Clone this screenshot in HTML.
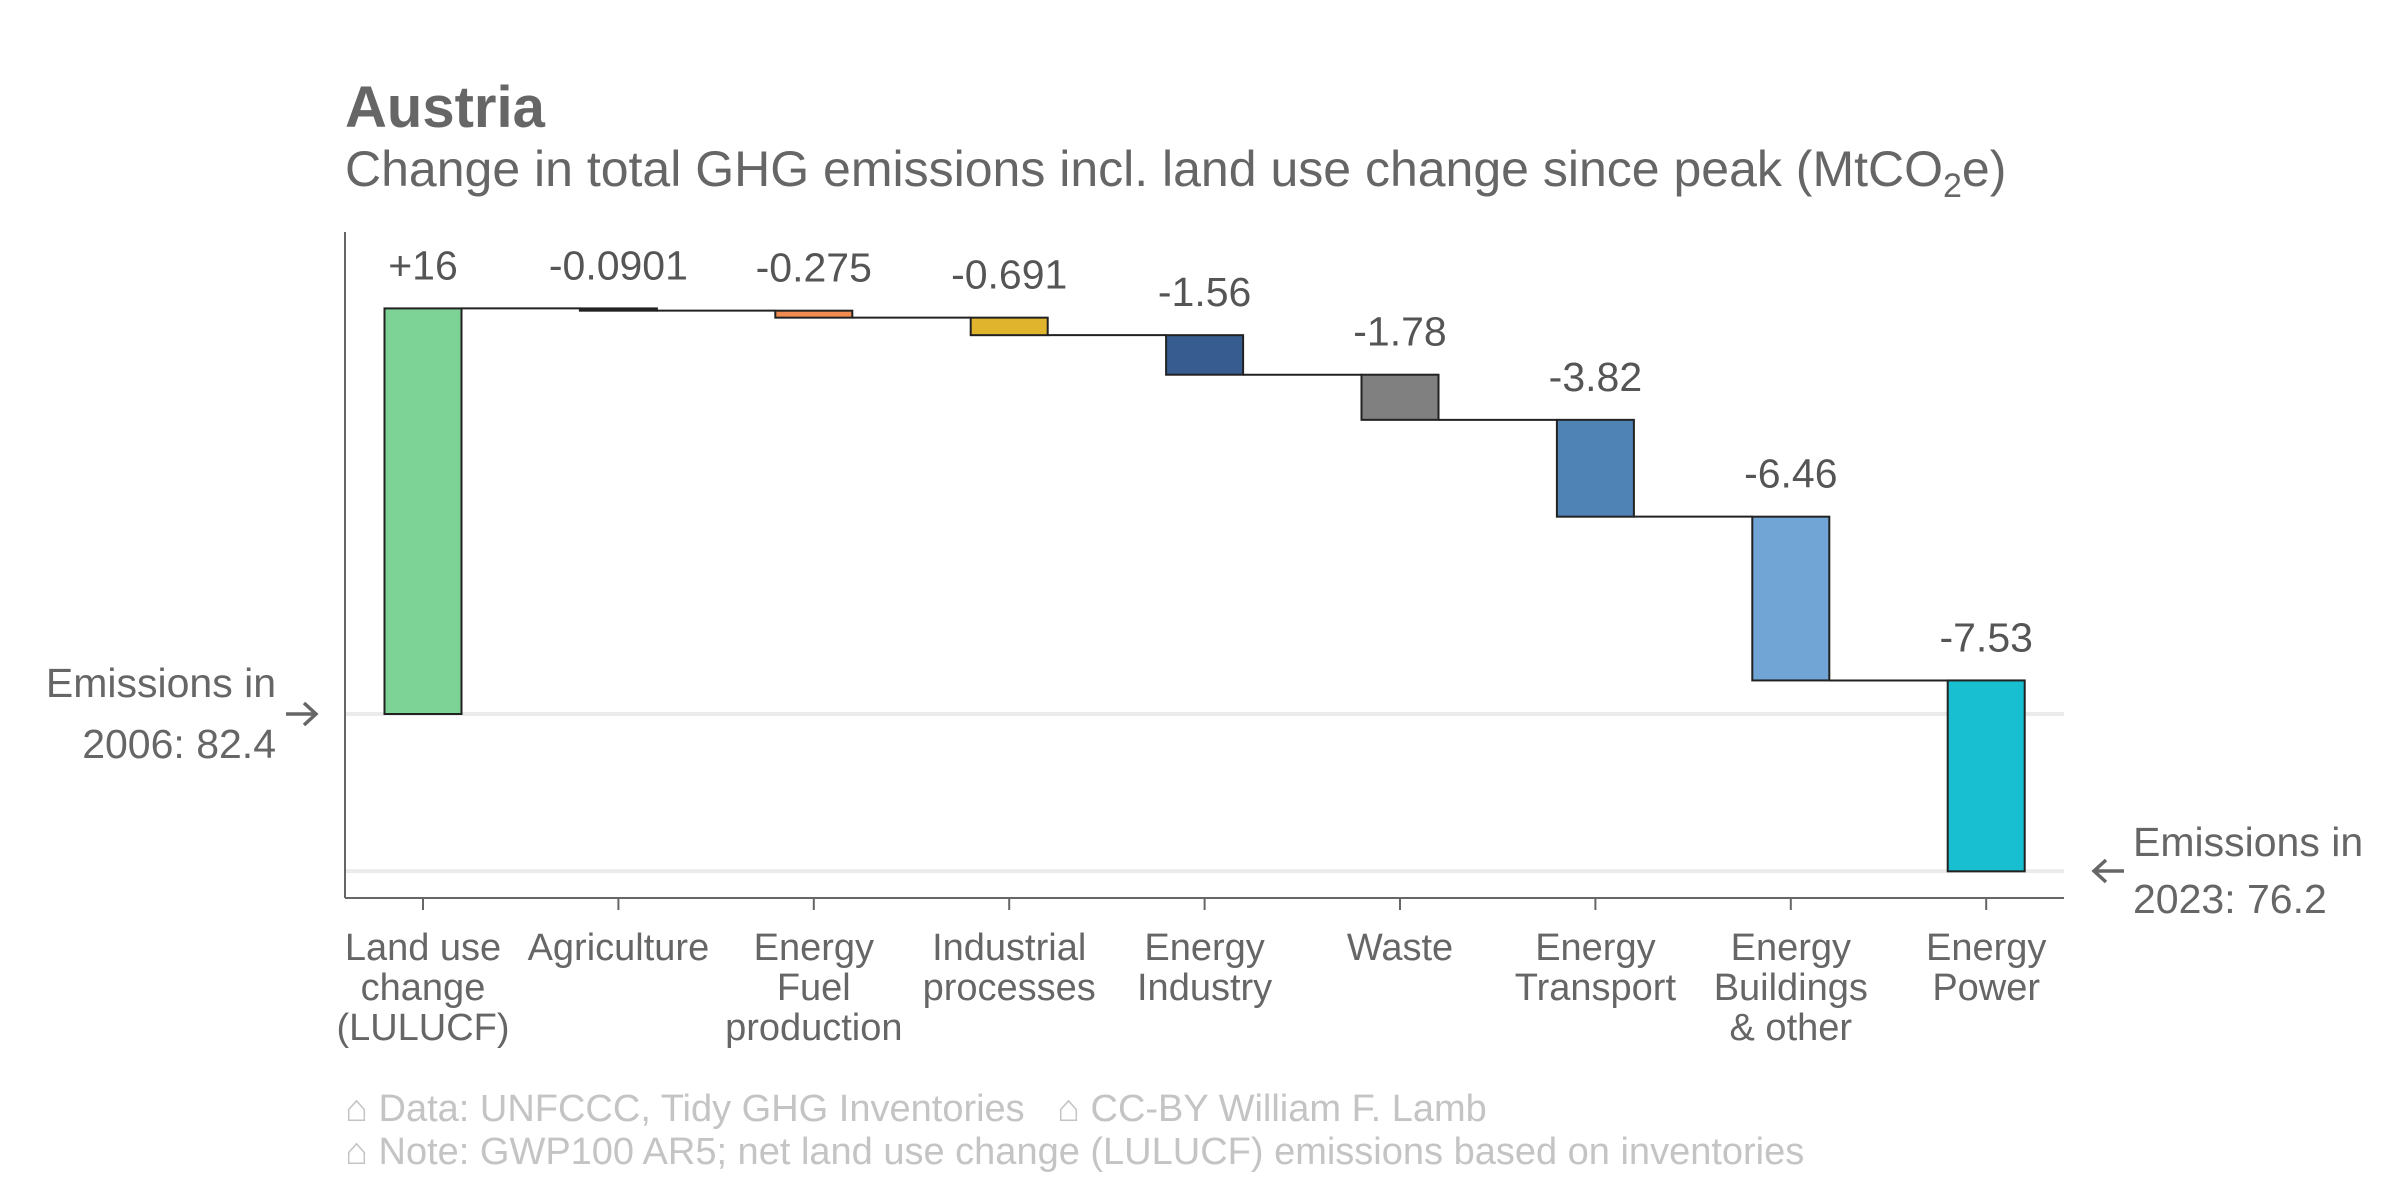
<!DOCTYPE html>
<html><head><meta charset="utf-8"><style>
body{margin:0;background:#fff;}
svg{display:block;font-family:"Liberation Sans",sans-serif;}
</style></head><body>
<svg width="2400" height="1200" viewBox="0 0 2400 1200">
<text x="345" y="127" font-size="58" font-weight="bold" fill="#666">Austria</text>
<text x="345" y="186" font-size="50" fill="#666">Change in total GHG emissions incl. land use change since peak (MtCO<tspan font-size="34" dy="11">2</tspan><tspan dy="-11">e)</tspan></text>
<g id="grid"></g>
<g id="plot"></g>
<line x1="345" y1="232" x2="345" y2="898" stroke="#666" stroke-width="2"/>
<line x1="345" y1="898" x2="2064" y2="898" stroke="#666" stroke-width="2"/>
<g id="xaxis"></g>
<g fill="#666" font-size="41">
<text x="276" y="697" text-anchor="end">Emissions in</text>
<text x="276" y="758" text-anchor="end">2006: 82.4</text>
</g>
<path d="M286 714 L316 714 M304 703 L316 714 L304 725" stroke="#666" stroke-width="3.5" fill="none"/>
<g fill="#666" font-size="41">
<text x="2133" y="856">Emissions in</text>
<text x="2133" y="913">2023: 76.2</text>
</g>
<path d="M2124 871 L2094 871 M2106 860 L2094 871 L2106 882" stroke="#666" stroke-width="3.5" fill="none"/>
<g fill="#c4c4c4" font-size="38">
<text x="345" y="1121">⌂ Data: UNFCCC, Tidy GHG Inventories</text>
<text x="1057" y="1121">⌂ CC-BY William F. Lamb</text>
<text x="345" y="1164">⌂ Note: GWP100 AR5; net land use change (LULUCF) emissions based on inventories</text>
</g>
</svg>
<script>
const categories=[["Land use","change","(LULUCF)"],["Agriculture"],["Energy","Fuel","production"],["Industrial","processes"],["Energy","Industry"],["Waste"],["Energy","Transport"],["Energy","Buildings","& other"],["Energy","Power"]];
const changes=[16,-0.0901,-0.275,-0.691,-1.56,-1.78,-3.82,-6.46,-7.53];
const valueLabels=["+16","-0.0901","-0.275","-0.691","-1.56","-1.78","-3.82","-6.46","-7.53"];
const colors=["#7dd396","#2f2f2f","#f28b4f","#e0b52d","#375c8f","#808080","#4f83b5","#70a5d5","#17bfd0"];
const startValue=82.4;
const endValue=76.2;
const NS="http://www.w3.org/2000/svg";
function y(v){return 714-(v-82.4)*25.35;}
function x(i){return 423+i*195.4;}
const bw=77;
function mk(tag,attrs,parent){const e=document.createElementNS(NS,tag);for(const k in attrs)e.setAttribute(k,attrs[k]);parent.appendChild(e);return e;}
const grid=document.getElementById('grid'),plot=document.getElementById('plot'),xa=document.getElementById('xaxis');
[startValue,endValue].forEach((v,i)=>{const l=mk('line',{x1:345,x2:2064,y1:y(v),y2:y(v),stroke:'#ebebeb','stroke-width':4},grid);

});
let level=startValue;
changes.forEach((c,i)=>{
  const a=level,b=level+c;
  const top=Math.min(y(a),y(b)),h=Math.abs(y(a)-y(b));
  const r=mk('rect',{x:x(i)-bw/2,y:top,width:bw,height:Math.max(h,1.5),fill:colors[i],stroke:'#222','stroke-width':2},plot);
  
  
  if(i<changes.length-1){const cl=mk('line',{x1:x(i)+bw/2,x2:x(i+1)-bw/2,y1:y(b),y2:y(b),stroke:'#222','stroke-width':2},plot);
  
  }
  const t=mk('text',{x:x(i),y:top-29,'text-anchor':'middle','font-size':41,fill:'#555'},plot);t.textContent=valueLabels[i];
  
  
  const tk=mk('line',{x1:x(i),x2:x(i),y1:898,y2:910,stroke:'#666','stroke-width':2},xa);
  
  
  const lab=mk('text',{x:x(i),y:960,'text-anchor':'middle','font-size':38,fill:'#666'},xa);
  
  
  categories[i].forEach((s,j)=>{const ts=mk('tspan',{x:x(i),dy:j?40:0},lab);ts.textContent=s;});
  level=b;
});
</script>
</body></html>
